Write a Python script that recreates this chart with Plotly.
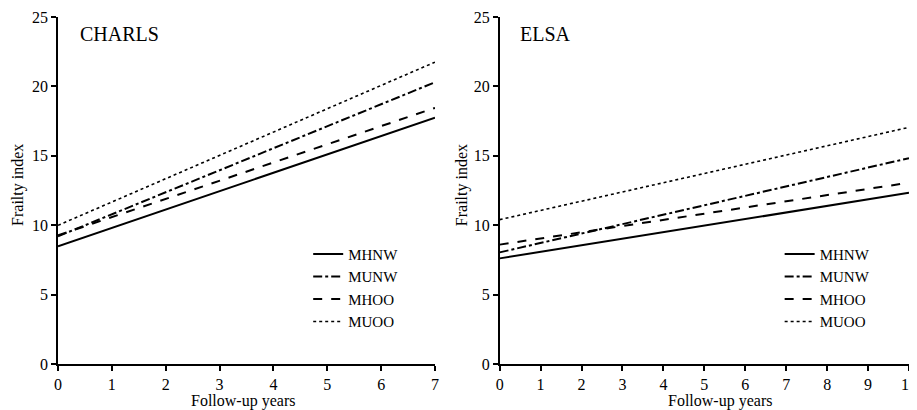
import plotly.graph_objects as go

series = ["MHNW", "MUNW", "MHOO", "MUOO"]
dashes = ["solid", "dashdot", "dash", "dot"]
widths = [2, 2, 2, 1.6]

charls_years = [0, 7]
charls_vals = {
    "MHNW": [8.48, 17.75],
    "MUNW": [9.2, 20.3],
    "MHOO": [9.27, 18.45],
    "MUOO": [9.99, 21.75],
}

elsa_years = [0, 10]
elsa_vals = {
    "MHNW": [7.61, 12.33],
    "MUNW": [8.04, 14.83],
    "MHOO": [8.6, 13.06],
    "MUOO": [10.4, 17.05],
}

FONT = "Liberation Serif"

fig = go.Figure()
for name, dash, w in zip(series, dashes, widths):
    fig.add_trace(go.Scatter(x=charls_years, y=charls_vals[name], mode="lines", name=name,
                             line=dict(color="black", width=w, dash=dash),
                             xaxis="x", yaxis="y", legend="legend"))
for name, dash, w in zip(series, dashes, widths):
    fig.add_trace(go.Scatter(x=elsa_years, y=elsa_vals[name], mode="lines", name=name,
                             line=dict(color="black", width=w, dash=dash),
                             xaxis="x2", yaxis="y2", legend="legend2"))

axis_common = dict(showline=True, linecolor="black", linewidth=1.5, ticks="outside",
                   ticklen=5, tickcolor="black", tickwidth=1.5, showgrid=False, zeroline=False,
                   automargin=False, tickfont=dict(family=FONT, size=16, color="black"))

fig.update_layout(
    width=909, height=402,
    margin=dict(l=50, r=8, t=9, b=46),
    plot_bgcolor="white", paper_bgcolor="white",
    font=dict(family=FONT, size=14, color="black"),
    xaxis=dict(domain=[0, 0.443], range=[0, 7], dtick=1, anchor="y", **axis_common),
    yaxis=dict(domain=[0, 1], range=[0, 25], dtick=5, anchor="x", **axis_common),
    xaxis2=dict(domain=[0.519, 1], range=[0, 10], dtick=1, anchor="y2", **axis_common),
    yaxis2=dict(domain=[0, 1], range=[0, 25], dtick=5, anchor="x2", **axis_common),
    legend=dict(x=0.294, y=0.364, xanchor="left", yanchor="top", bgcolor="rgba(0,0,0,0)",
                font=dict(family=FONT, size=15, color="black"), itemwidth=30, tracegroupgap=0),
    legend2=dict(x=0.848, y=0.364, xanchor="left", yanchor="top", bgcolor="rgba(0,0,0,0)",
                 font=dict(family=FONT, size=15, color="black"), itemwidth=30, tracegroupgap=0),
    annotations=[
        dict(text="CHARLS", xref="paper", yref="paper", x=0.024, y=0.95, xanchor="left",
             yanchor="middle", showarrow=False, font=dict(family=FONT, size=20, color="black")),
        dict(text="ELSA", xref="paper", yref="paper", x=0.541, y=0.95, xanchor="left",
             yanchor="middle", showarrow=False, font=dict(family=FONT, size=20, color="black")),
        dict(text="Follow-up years", xref="paper", yref="paper", x=0.217, y=-0.107,
             xanchor="center", yanchor="middle", showarrow=False,
             font=dict(family=FONT, size=16, color="black")),
        dict(text="Follow-up years", xref="paper", yref="paper", x=0.778, y=-0.107,
             xanchor="center", yanchor="middle", showarrow=False,
             font=dict(family=FONT, size=16, color="black")),
        dict(text="Frailty index", xref="paper", yref="paper", x=-0.047, y=0.516,
             xanchor="center", yanchor="middle", textangle=-90, showarrow=False,
             font=dict(family=FONT, size=16, color="black")),
        dict(text="Frailty index", xref="paper", yref="paper", x=0.475, y=0.516,
             xanchor="center", yanchor="middle", textangle=-90, showarrow=False,
             font=dict(family=FONT, size=16, color="black")),
    ],
)

fig.write_html("out.html")
